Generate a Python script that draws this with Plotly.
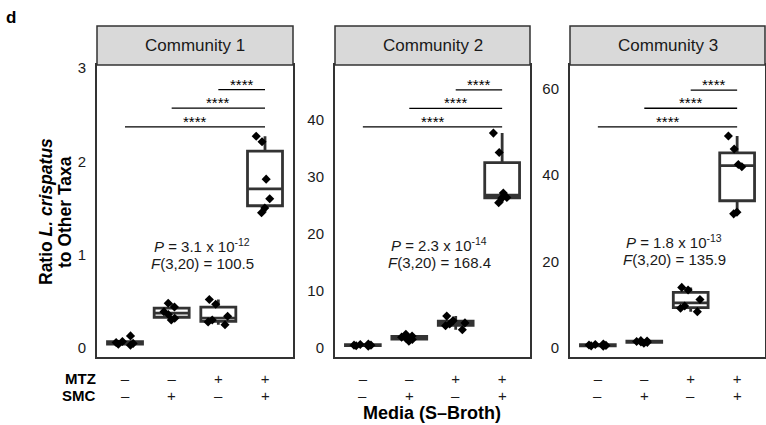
import numpy as np
import plotly.graph_objects as go

# ---------------- data ----------------
panel_titles = ["Community 1", "Community 2", "Community 3"]
groups = ["MTZ-/SMC-", "MTZ-/SMC+", "MTZ+/SMC-", "MTZ+/SMC+"]
mtz_signs = ["–", "–", "+", "+"]
smc_signs = ["–", "+", "–", "+"]

community1 = [
    [0.03, 0.04, 0.05, 0.06, 0.07, 0.13],
    [0.30, 0.32, 0.36, 0.39, 0.44, 0.48],
    [0.25, 0.28, 0.30, 0.34, 0.47, 0.52],
    [1.45, 1.50, 1.60, 1.81, 2.21, 2.27],
]
community2 = [
    [0.3, 0.4, 0.5, 0.5, 0.6, 0.7],
    [1.2, 1.5, 1.7, 1.9, 2.1, 2.4],
    [3.2, 3.9, 4.2, 4.4, 4.8, 5.6],
    [25.5, 26.3, 26.4, 27.2, 34.3, 37.7],
]
community3 = [
    [0.4, 0.5, 0.6, 0.7, 0.8, 0.9],
    [1.1, 1.3, 1.4, 1.5, 1.6, 1.7],
    [8.4, 9.2, 9.7, 11.2, 13.4, 14.0],
    [31.0, 31.4, 41.9, 42.4, 46.0, 49.0],
]

y_ticks_1 = [0, 1, 2, 3]
y_ticks_2 = [0, 10, 20, 30, 40]
y_ticks_3 = [0, 20, 40, 60]
y_range_1 = [-0.096, 3.033]
y_range_2 = [-1.58, 49.65]
y_range_3 = [-2.08, 65.4]

bracket_start_groups = [0, 1, 2]      # each compared with the last group
bracket_y_1 = [2.37, 2.57, 2.77]
bracket_y_2 = [38.8, 42.05, 45.3]
bracket_y_3 = [51.1, 55.4, 59.6]
bracket_label = "****"

p_mantissa = ["3.1", "2.3", "1.8"]
p_exponent = ["-12", "-14", "-13"]
f_values = ["100.5", "168.4", "135.9"]
stat_text_y = [1.0, 16.6, 22.5]

# ---------------- layout helpers ----------------
W, H = 766, 425
FONT = "Liberation Sans, Arial, Helvetica, sans-serif"
DARK = "#333333"


def px(x):
    return x / W


def py(y):
    return 1 - y / H


x_domains = [(97, 293), (335, 530), (570, 765)]
y_domain = [py(357), py(65)]

all_data = [community1, community2, community3]
all_ticks = [y_ticks_1, y_ticks_2, y_ticks_3]
all_ranges = [y_range_1, y_range_2, y_range_3]
all_brackets = [bracket_y_1, bracket_y_2, bracket_y_3]

fig = go.Figure()
shapes = []
annotations = []

for i, data in enumerate(all_data):
    sfx = "" if i == 0 else str(i + 1)
    xa, ya = "x" + sfx, "y" + sfx

    # box statistics (R type-7 quantiles, Tukey whiskers)
    q1s, meds, q3s, lows, highs = [], [], [], [], []
    for vals in data:
        v = np.array(vals, dtype=float)
        q1, med, q3 = np.percentile(v, [25, 50, 75])
        iqr = q3 - q1
        lows.append(float(v[v >= q1 - 1.5 * iqr].min()))
        highs.append(float(v[v <= q3 + 1.5 * iqr].max()))
        q1s.append(float(q1)); meds.append(float(med)); q3s.append(float(q3))

    fig.add_trace(go.Box(
        x=groups, q1=q1s, median=meds, q3=q3s,
        lowerfence=lows, upperfence=highs,
        xaxis=xa, yaxis=ya, width=0.75, whiskerwidth=0,
        line=dict(color=DARK, width=2.8), fillcolor="white",
        boxpoints=False, hoverinfo="skip",
    ))

    xs, ys = [], []
    for g, vals in zip(groups, data):
        xs += [g] * len(vals)
        ys += vals
    fig.add_trace(go.Box(
        x=xs, y=ys, xaxis=xa, yaxis=ya, width=0.75,
        boxpoints="all", jitter=0.6, pointpos=0,
        line=dict(width=0, color="rgba(0,0,0,0)"), fillcolor="rgba(0,0,0,0)",
        marker=dict(symbol="diamond", size=7, color="black"),
        hoverinfo="skip",
    ))

    x0, x1 = x_domains[i]
    fig.update_layout(**{
        ("xaxis" + sfx): dict(
            domain=[px(x0), px(x1)], anchor=ya, type="category",
            categoryorder="array", categoryarray=groups, automargin=False,
            range=[-0.6, 3.6], tickvals=groups, ticktext=mtz_signs,
            showline=True, mirror=True, linecolor=DARK, linewidth=2,
            showgrid=False, zeroline=False, ticks="", ticklen=0,
            tickfont=dict(size=15, color="#1a1a1a", family=FONT),
            ticklabelstandoff=7,
        ),
        ("yaxis" + sfx): dict(
            domain=y_domain, anchor=xa, range=all_ranges[i], automargin=False,
            tickvals=all_ticks[i], ticktext=[str(t) for t in all_ticks[i]],
            showline=True, mirror=True, linecolor=DARK, linewidth=2,
            showgrid=False, zeroline=False, ticks="", ticklen=0,
            tickfont=dict(size=15, color="#1a1a1a", family=FONT),
            ticklabelstandoff=6,
        ),
    })

    # strip
    shapes.append(dict(type="rect", xref=xa + " domain", yref="paper",
                       x0=0, x1=1, y0=py(65), y1=py(26),
                       fillcolor="#d9d9d9", line=dict(color=DARK, width=1.5)))
    annotations.append(dict(xref=xa + " domain", yref="paper", x=0.5, y=py(45.5),
                            xanchor="center", yanchor="middle",
                            text=panel_titles[i], showarrow=False,
                            font=dict(size=17, color="#1a1a1a", family=FONT)))

    # significance brackets
    for start, yb in zip(bracket_start_groups, all_brackets[i]):
        shapes.append(dict(type="line", xref=xa, yref=ya, x0=start, x1=3,
                           y0=yb, y1=yb, line=dict(color="black", width=1.3)))
        annotations.append(dict(xref=xa, yref=ya, x=(start + 3) / 2, y=yb,
                                text=bracket_label, showarrow=False,
                                xanchor="center", yanchor="bottom", yshift=-5,
                                font=dict(size=15, color="black", family=FONT)))

    # statistics text (two lines)
    annotations.append(dict(
        xref=xa, yref=ya, x=1.65, y=stat_text_y[i], showarrow=False,
        xanchor="center", yanchor="middle", yshift=9,
        text=f"<i>P</i> = {p_mantissa[i]} x 10<sup>{p_exponent[i]}</sup>",
        font=dict(size=15, color="#1a1a1a", family=FONT),
    ))
    annotations.append(dict(
        xref=xa, yref=ya, x=1.65, y=stat_text_y[i], showarrow=False,
        xanchor="center", yanchor="middle", yshift=-9,
        text=f"<i>F</i>(3,20) = {f_values[i]}",
        font=dict(size=15, color="#1a1a1a", family=FONT),
    ))

    # SMC row
    for gi, g in enumerate(groups):
        annotations.append(dict(xref=xa, yref="paper", x=gi, y=py(395),
                                xanchor="center", yanchor="middle",
                                text=smc_signs[gi], showarrow=False,
                                font=dict(size=15, color="#1a1a1a", family=FONT)))

# row labels and titles
annotations += [
    dict(xref="paper", yref="paper", x=px(98), y=py(378), xanchor="right", yanchor="middle",
         text="<b>MTZ</b>", showarrow=False, font=dict(size=15, color="black", family=FONT)),
    dict(xref="paper", yref="paper", x=px(98), y=py(395), xanchor="right", yanchor="middle",
         text="<b>SMC</b>", showarrow=False, font=dict(size=15, color="black", family=FONT)),
    dict(xref="paper", yref="paper", x=px(432), y=py(413), xanchor="center", yanchor="middle",
         text="<b>Media (S–Broth)</b>", showarrow=False,
         font=dict(size=18, color="black", family=FONT)),
    dict(xref="paper", yref="paper", x=px(46), y=py(212), textangle=-90,
         xanchor="center", yanchor="middle",
         text="<b>Ratio <i>L. crispatus</i></b>", showarrow=False,
         font=dict(size=17.5, color="black", family=FONT)),
    dict(xref="paper", yref="paper", x=px(65), y=py(212), textangle=-90,
         xanchor="center", yanchor="middle",
         text="<b>to Other Taxa</b>", showarrow=False,
         font=dict(size=17.5, color="black", family=FONT)),
    dict(xref="paper", yref="paper", x=px(4), y=py(17), xanchor="left", yanchor="middle",
         text="<b>d</b>", showarrow=False, font=dict(size=17, color="black", family=FONT)),
]

fig.update_layout(
    width=W, height=H, margin=dict(l=0, r=0, t=0, b=0, autoexpand=False),
    paper_bgcolor="white", plot_bgcolor="white",
    showlegend=False, boxmode="overlay",
    shapes=shapes, annotations=annotations,
    font=dict(family=FONT),
)

fig.write_html("out.html", config={"displayModeBar": False},
               post_script="document.body.style.margin='0px';document.body.style.overflow='hidden';")
